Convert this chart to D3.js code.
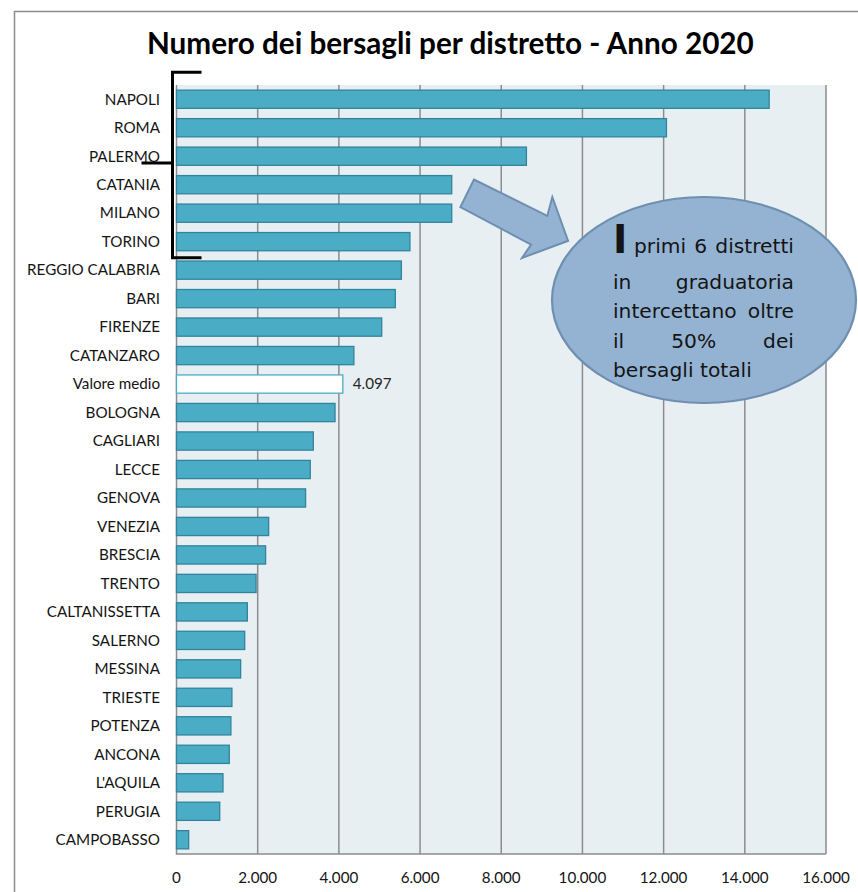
<!DOCTYPE html>
<html>
<head>
<meta charset="utf-8">
<script src="https://cdn.jsdelivr.net/npm/d3@7"></script>
<style>
  html, body { margin: 0; padding: 0; background: #ffffff; }
  svg { display: block; }
</style>
</head>
<body>
<svg id="chart" width="858" height="892"></svg>
<script>
// Districts, ordered as ranked (the average sits in its ranked position)
const districts = [
  "NAPOLI", "ROMA", "PALERMO", "CATANIA", "MILANO", "TORINO",
  "REGGIO CALABRIA", "BARI", "FIRENZE", "CATANZARO", "Valore medio",
  "BOLOGNA", "CAGLIARI", "LECCE", "GENOVA", "VENEZIA", "BRESCIA",
  "TRENTO", "CALTANISSETTA", "SALERNO", "MESSINA", "TRIESTE",
  "POTENZA", "ANCONA", "L'AQUILA", "PERUGIA", "CAMPOBASSO"
];
// Number of targets per district, year 2020
const targets = [
  14600, 12070, 8620, 6780, 6780, 5750,
  5540, 5390, 5055, 4370, 4097,
  3905, 3370, 3295, 3180, 2270, 2195,
  1960, 1745, 1680, 1580, 1365,
  1340, 1300, 1145, 1065, 300
];
const averageLabel = "Valore medio";
const tickValues = [0, 2000, 4000, 6000, 8000, 10000, 12000, 14000, 16000];
const titleText = "Numero dei bersagli per distretto - Anno 2020";
const calloutLines = [
  ["primi", "6", "distretti"],
  ["in", "graduatoria"],
  ["intercettano", "oltre"],
  ["il", "50%", "dei"],
  ["bersagli totali"]
];
const calloutDropCap = "I";

const data = districts.map((d, i) => ({ name: d, value: targets[i] }));

const svg = d3.select("#chart");
const itFormat = d3.formatLocale({ decimal: ",", thousands: ".", grouping: [3], currency: ["€", ""] }).format(",.0f");

// Measure a string and return the font size that makes it a given width
function fitSize(text, family, weight, base, target) {
  const t = svg.append("text").attr("font-family", family).attr("font-weight", weight)
    .attr("font-size", base).text(text);
  const w = t.node().getComputedTextLength();
  t.remove();
  return base * target / w;
}

// Outer frame
svg.append("path")
  .attr("d", "M14.5,892V11.5H858")
  .attr("fill", "none").attr("stroke", "#8c8c8c").attr("stroke-width", 1.5);

// Title
const titleFont = "Lato, 'Open Sans', sans-serif";
const titleSize = fitSize(titleText, titleFont, 700, 27, 607);
svg.append("text")
  .attr("x", 147).attr("y", 54)
  .attr("font-family", titleFont).attr("font-weight", 700)
  .attr("font-size", titleSize).attr("fill", "#000")
  .text(titleText);

// Scales
const plot = { left: 176.5, right: 826, top: 85, bottom: 854 };
const x = d3.scaleLinear().domain([0, 16000]).range([plot.left, plot.right]);
const y = d3.scaleBand().domain(districts).range([plot.top, plot.bottom])
  .paddingInner(0.36).paddingOuter(0.18);

// Plot background
svg.append("rect")
  .attr("x", plot.left).attr("y", plot.top)
  .attr("width", plot.right - plot.left).attr("height", plot.bottom - plot.top)
  .attr("fill", "#e8eff3");

// Vertical gridlines
svg.append("g").selectAll("line")
  .data(tickValues.filter(t => t > 0))
  .join("line")
  .attr("x1", d => x(d)).attr("x2", d => x(d))
  .attr("y1", plot.top).attr("y2", plot.bottom)
  .attr("stroke", "#8c8c8c").attr("stroke-width", 1.5);

// Axis lines (category axis and value axis base)
svg.append("path")
  .attr("d", `M${plot.left},${plot.top}V${plot.bottom}H${plot.right}`)
  .attr("fill", "none").attr("stroke", "#8c8c8c").attr("stroke-width", 1.5);

// Bars
svg.append("g").selectAll("rect")
  .data(data)
  .join("rect")
  .attr("x", x(0))
  .attr("y", d => y(d.name))
  .attr("width", d => x(d.value) - x(0))
  .attr("height", y.bandwidth())
  .attr("fill", d => d.name === averageLabel ? "#ffffff" : "#4bacc6")
  .attr("stroke", d => d.name === averageLabel ? "#4bacc6" : "#31849b")
  .attr("stroke-width", 1.3);

// Label fonts
const labelFont = "Lato, 'Open Sans', sans-serif";
const labelSize = fitSize("REGGIO CALABRIA", labelFont, 400, 15, 133);

// Category labels
svg.append("g").selectAll("text")
  .data(data)
  .join("text")
  .attr("x", 160)
  .attr("y", d => y(d.name) + y.bandwidth() / 2)
  .attr("dy", "0.35em")
  .attr("text-anchor", "end")
  .attr("font-family", labelFont).attr("font-size", labelSize)
  .attr("fill", "#141414")
  .text(d => d.name);

// Value label on the average bar
const avg = data.find(d => d.name === averageLabel);
svg.append("text")
  .attr("x", x(avg.value) + 10)
  .attr("y", y(avg.name) + y.bandwidth() / 2)
  .attr("dy", "0.35em")
  .attr("font-family", labelFont).attr("font-size", labelSize)
  .attr("fill", "#262626")
  .text(itFormat(avg.value));

// Value axis tick labels
svg.append("g").selectAll("text")
  .data(tickValues)
  .join("text")
  .attr("x", d => x(d))
  .attr("y", 883)
  .attr("text-anchor", "middle")
  .attr("font-family", labelFont).attr("font-size", labelSize)
  .attr("fill", "#141414")
  .text(d => itFormat(d));

// Bracket grouping the first six districts
const topBand = y(districts[0]);
const sixthBand = y(districts[5]) + y.bandwidth();
const bx = 172.5;
const bTop = topBand - 18, bBot = sixthBand + 7;
svg.append("path")
  .attr("d", `M${bx + 29},${bTop}H${bx}V${bBot}H${bx + 29}M${bx - 31},${(bTop + bBot) / 2 - 2}H${bx}`)
  .attr("fill", "none").attr("stroke", "#000").attr("stroke-width", 3);

// Block arrow pointing to the callout
const arrowPts = [
  [473.9, 179.5], [547.3, 215.9], [552.3, 197.0], [568.1, 240.8],
  [522.0, 258.0], [531.1, 244.5], [460.4, 207.1]
];
svg.append("path")
  .attr("d", d3.line()(arrowPts) + "Z")
  .attr("fill", "#94b3d2").attr("stroke", "#6f8fb1").attr("stroke-width", 2)
  .attr("stroke-linejoin", "miter");

// Callout ellipse
svg.append("ellipse")
  .attr("cx", 704).attr("cy", 300).attr("rx", 152).attr("ry", 103)
  .attr("fill", "#94b3d2").attr("stroke", "#6f8fb1").attr("stroke-width", 2.2);

// Callout text, justified between two edges
const cFont = "'DejaVu Sans', sans-serif";
const cSize = fitSize("bersagli totali", cFont, 400, 17, 139);
const cLeft = 613, cRight = 794;
const baselines = [253, 289, 318, 348, 377];
const callout = svg.append("g").attr("font-family", cFont).attr("font-size", cSize).attr("fill", "#141414");

callout.append("text")
  .attr("x", cLeft).attr("y", baselines[0])
  .attr("font-size", cSize * 1.9).attr("font-weight", 700)
  .text(calloutDropCap);

calloutLines.forEach((words, li) => {
  const start = li === 0 ? 634 : cLeft;
  const last = li === calloutLines.length - 1;
  const nodes = words.map(w => callout.append("text").attr("y", baselines[li]).text(w));
  const widths = nodes.map(n => n.node().getComputedTextLength());
  const total = d3.sum(widths);
  const gap = (last || words.length < 2) ? 0 : (cRight - start - total) / (words.length - 1);
  let cx = start;
  nodes.forEach((n, i) => { n.attr("x", cx); cx += widths[i] + gap; });
});
</script>
</body>
</html>
